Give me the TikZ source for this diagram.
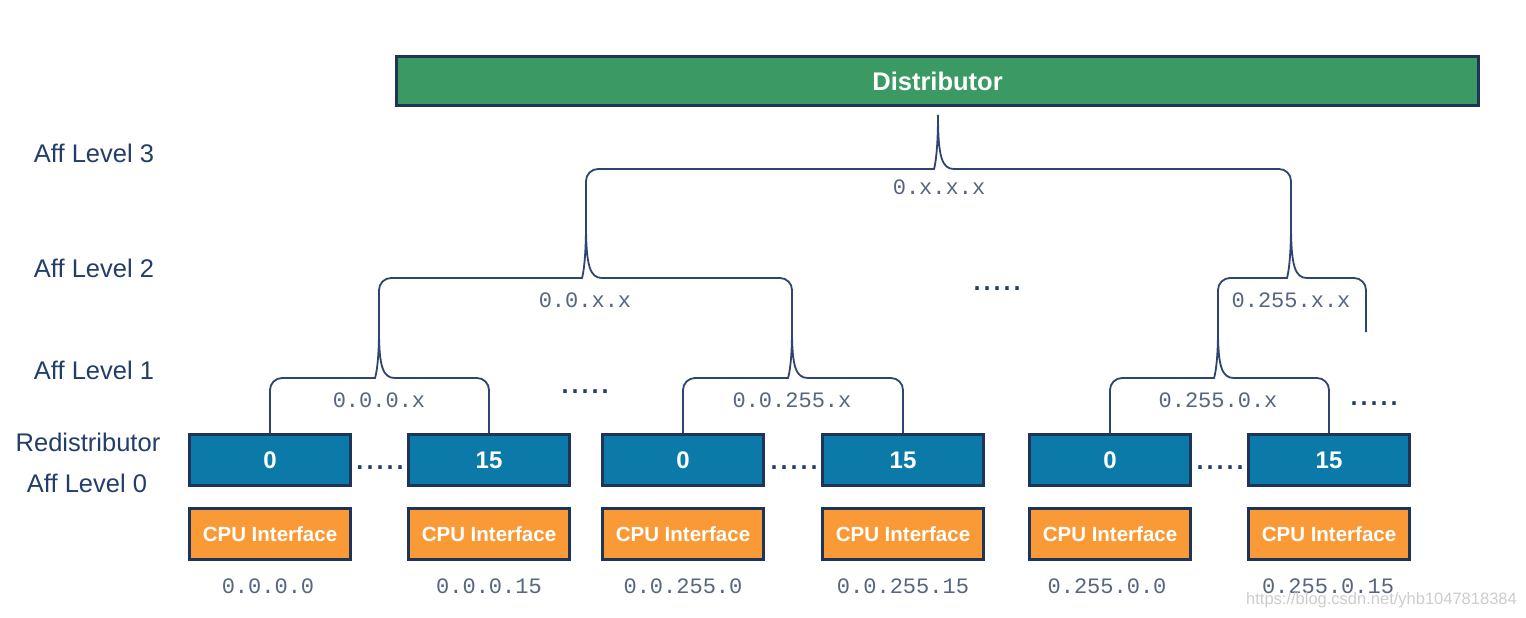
\documentclass[tikz,border=0pt]{standalone}
\usepackage{fontspec}
\setmainfont{Liberation Sans}
\newfontfamily\monof{Liberation Mono}
\usetikzlibrary{calc}
\definecolor{navy}{HTML}{1E3559}
\definecolor{labnavy}{HTML}{233E68}
\definecolor{bracec}{HTML}{2F4470}
\definecolor{addrc}{HTML}{56667F}
\definecolor{distgreen}{HTML}{3B9A64}
\definecolor{redblue}{HTML}{0B7AA9}
\definecolor{cpuorange}{HTML}{FA9A36}
\definecolor{wmark}{HTML}{CDCDCD}
\begin{document}
\begin{tikzpicture}[x=1pt,y=-1pt,
  box/.style={draw=navy,line width=3pt,inner sep=0pt,text=white,font=\bfseries},
  distbox/.style={box,fill=distgreen,minimum width=1082pt,minimum height=49pt,font=\fontsize{25.5}{28}\selectfont\bfseries},
  redbox/.style={box,fill=redblue,minimum width=161pt,minimum height=51pt,font=\fontsize{24}{26}\selectfont\bfseries},
  cpubox/.style={box,fill=cpuorange,minimum width=161pt,minimum height=51pt,font=\fontsize{20.5}{22}\selectfont\bfseries},
  lvl/.style={text=labnavy,font=\fontsize{25.5}{28}\selectfont,inner sep=0pt},
  addr/.style={text=addrc,font=\monof\fontsize{22}{24}\selectfont,inner sep=0pt},
  dots/.style={text=labnavy,font=\fontsize{36}{38}\selectfont,inner sep=0pt,anchor=base},
  brace/.style={draw=bracec,line width=1.8pt},
  wm/.style={text=wmark,font=\fontsize{16.5}{18}\selectfont,inner sep=0pt}
]
\useasboundingbox (0,0) rectangle (1526,618);
\fill[white] (0,0) rectangle (1526,618);

% Distributor
\node[distbox] (dist) at (937.5,81) {Distributor};

% Level labels
\node[lvl] (L3) at (94,153) {Aff Level 3};
\node[lvl] (L2) at (94,268) {Aff Level 2};
\node[lvl] (L1) at (94,370) {Aff Level 1};
\node[lvl] (Lr) at (88,442) {Redistributor};
\node[lvl] (L0) at (87,483) {Aff Level 0};

% Redistributors
\node[redbox] (r1) at (270,460) {0};
\node[redbox] (r2) at (489,460) {15};
\node[redbox] (r3) at (683,460) {0};
\node[redbox] (r4) at (903,460) {15};
\node[redbox] (r5) at (1110,460) {0};
\node[redbox] (r6) at (1329,460) {15};

% CPU interfaces
\node[cpubox] (c1) at (270,534) {CPU Interface};
\node[cpubox] (c2) at (489,534) {CPU Interface};
\node[cpubox] (c3) at (683,534) {CPU Interface};
\node[cpubox] (c4) at (903,534) {CPU Interface};
\node[cpubox] (c5) at (1110,534) {CPU Interface};
\node[cpubox] (c6) at (1329,534) {CPU Interface};

% bottom addresses
\node[addr] (a1) at (268,586) {0.0.0.0};
\node[addr] (a2) at (489,586) {0.0.0.15};
\node[addr] (a3) at (683,586) {0.0.255.0};
\node[addr] (a4) at (903,586) {0.0.255.15};
\node[addr] (a5) at (1107,586) {0.255.0.0};
\node[addr] (a6) at (1328,586) {0.255.0.15};

% dots between boxes
\node[dots] (d1) at (380,469) {.....};
\node[dots] (d2) at (794,469) {.....};
\node[dots] (d3) at (1220,469) {.....};
% other dots
\node[dots] (d4) at (997,290) {.....};
\node[dots] (d5) at (585,393) {.....};
\node[dots] (d6) at (1374,405) {.....};

% brace junction coordinates
\coordinate (t3) at (938,115);
\coordinate (t2a) at (586,224);
\coordinate (t2b) at (1291,224);
\coordinate (t1a) at (379,330);
\coordinate (t1b) at (792,330);
\coordinate (t1c) at (1218,330);
\coordinate (e1) at (1366,332);

% Level 3 brace
\draw[brace] (t2a) [rounded corners=12pt] |- ($(t3)+(-16,54)$) [sharp corners]
  .. controls ($(t3)+(-4,54)$) and ($(t3)+(0,42)$) .. (t3)
  .. controls ($(t3)+(0,42)$) and ($(t3)+(4,54)$) .. ($(t3)+(16,54)$)
  [rounded corners=12pt] -| (t2b);
% Level 2 braces
\draw[brace] (t1a) [rounded corners=12pt] |- ($(t2a)+(-16,54)$) [sharp corners]
  .. controls ($(t2a)+(-4,54)$) and ($(t2a)+(0,42)$) .. (t2a)
  .. controls ($(t2a)+(0,42)$) and ($(t2a)+(4,54)$) .. ($(t2a)+(16,54)$)
  [rounded corners=12pt] -| (t1b);
\draw[brace] (t1c) [rounded corners=12pt] |- ($(t2b)+(-16,54)$) [sharp corners]
  .. controls ($(t2b)+(-4,54)$) and ($(t2b)+(0,42)$) .. (t2b)
  .. controls ($(t2b)+(0,42)$) and ($(t2b)+(4,54)$) .. ($(t2b)+(16,54)$)
  [rounded corners=12pt] -| (e1);
% Level 1 braces
\draw[brace] (r1.north) [rounded corners=12pt] |- ($(t1a)+(-16,48)$) [sharp corners]
  .. controls ($(t1a)+(-4,48)$) and ($(t1a)+(0,37)$) .. (t1a)
  .. controls ($(t1a)+(0,37)$) and ($(t1a)+(4,48)$) .. ($(t1a)+(16,48)$)
  [rounded corners=12pt] -| (r2.north);
\draw[brace] (r3.north) [rounded corners=12pt] |- ($(t1b)+(-16,48)$) [sharp corners]
  .. controls ($(t1b)+(-4,48)$) and ($(t1b)+(0,37)$) .. (t1b)
  .. controls ($(t1b)+(0,37)$) and ($(t1b)+(4,48)$) .. ($(t1b)+(16,48)$)
  [rounded corners=12pt] -| (r4.north);
\draw[brace] (r5.north) [rounded corners=12pt] |- ($(t1c)+(-16,48)$) [sharp corners]
  .. controls ($(t1c)+(-4,48)$) and ($(t1c)+(0,37)$) .. (t1c)
  .. controls ($(t1c)+(0,37)$) and ($(t1c)+(4,48)$) .. ($(t1c)+(16,48)$)
  [rounded corners=12pt] -| (r6.north);

% brace labels
\node[addr] (b3) at (939,187) {0.x.x.x};
\node[addr] (b2a) at (585,300) {0.0.x.x};
\node[addr] (b2b) at (1291,300) {0.255.x.x};
\node[addr] (b1a) at (379,400) {0.0.0.x};
\node[addr] (b1b) at (792,400) {0.0.255.x};
\node[addr] (b1c) at (1218,400) {0.255.0.x};

% watermark
\node[wm,anchor=east] (wm) at (1517,600) {https://blog.csdn.net/yhb1047818384};
\end{tikzpicture}
\end{document}
